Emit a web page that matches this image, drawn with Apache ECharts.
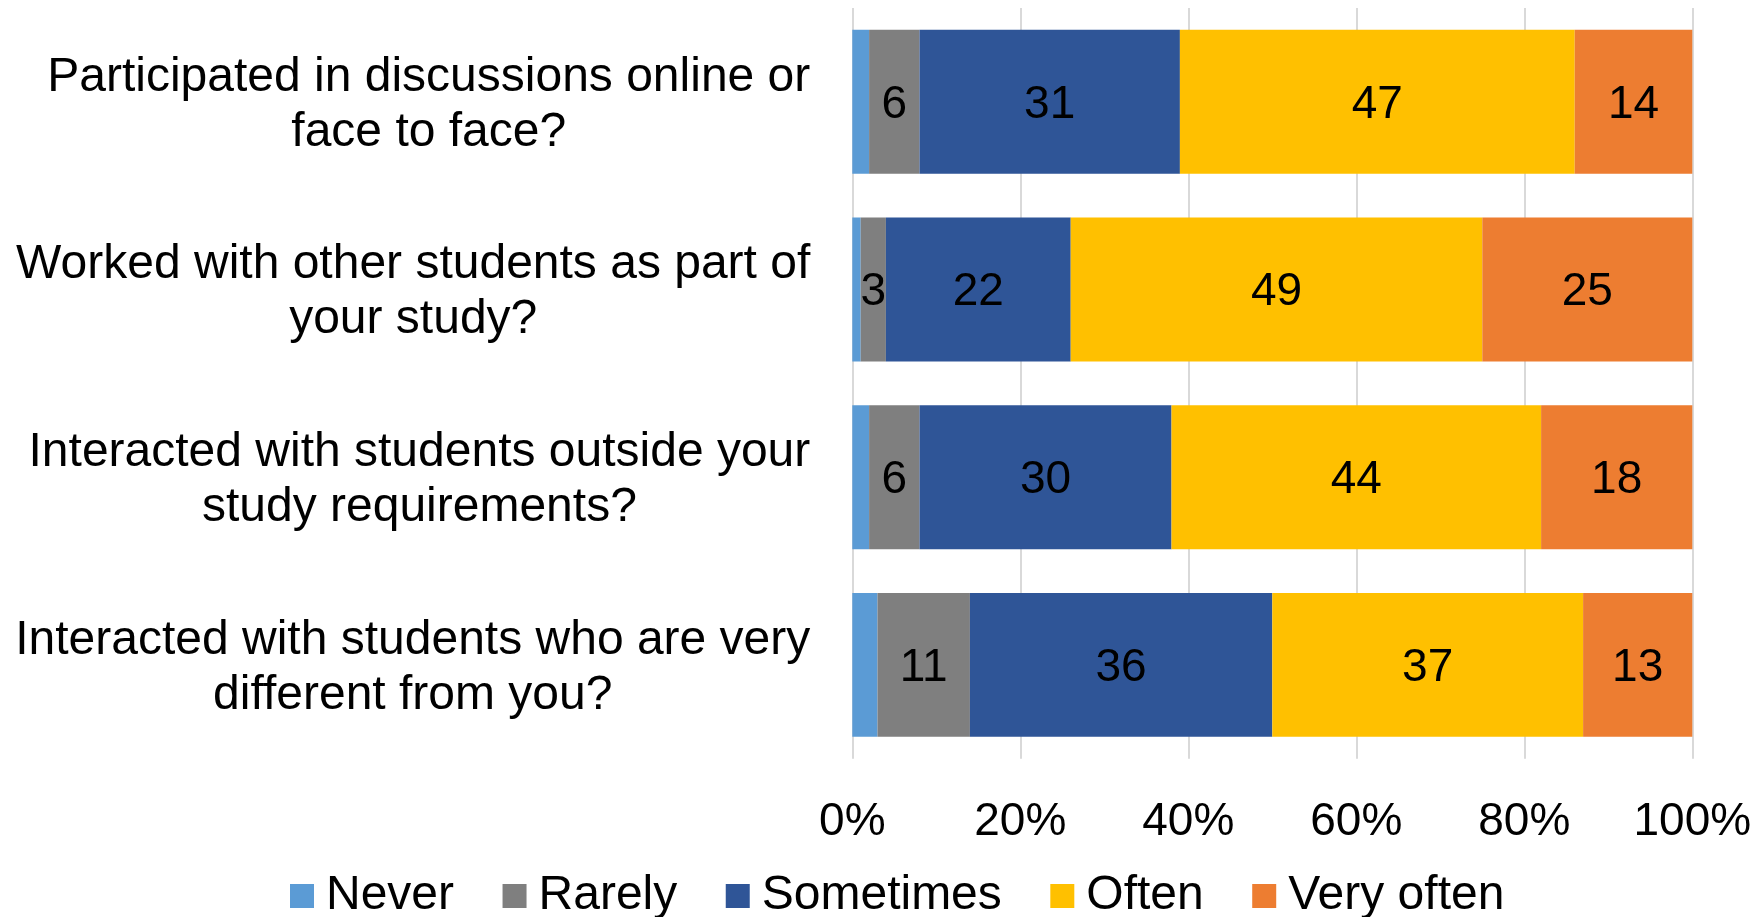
<!DOCTYPE html>
<html>
<head>
<meta charset="utf-8">
<title>Student interaction frequency</title>
<script src="https://cdn.jsdelivr.net/npm/echarts@6/dist/echarts.min.js"></script>
<style>
  html, body { margin: 0; padding: 0; background: #ffffff; }
  #chart { width: 1763px; height: 917px; }
</style>
</head>
<body>
<div id="chart"></div>
<script>
// Survey questions (one horizontal bar each, top to bottom)
const categories = [
  'Participated in discussions online or\nface to face?',
  'Worked with other students as part of\nyour study?',
  'Interacted with students outside your\nstudy requirements?',
  'Interacted with students who are very\ndifferent from you?'
];

// Response shares in percent, one array per answer option
const never     = [2, 1, 2, 3];
const rarely    = [6, 3, 6, 11];
const sometimes = [31, 22, 30, 36];
const often     = [47, 49, 44, 37];
const veryOften = [14, 25, 18, 13];

const seriesNames = ['Never', 'Rarely', 'Sometimes', 'Often', 'Very often'];
const seriesColors = ['#5B9BD5', '#7F7F7F', '#2F5597', '#FFC000', '#ED7D31'];
const seriesValues = [never, rarely, sometimes, often, veryOften];
const showValueLabel = [false, true, true, true, true];

// Percent axis ticks
const tickValues = [0, 20, 40, 60, 80, 100];

const FONT = '"Liberation Sans", Arial, sans-serif';

const chart = echarts.init(document.getElementById('chart'), null, { renderer: 'canvas' });

const series = seriesNames.map((name, i) => ({
  name: name,
  type: 'bar',
  stack: 'total',
  barCategoryGap: '23.3%',
  itemStyle: { color: seriesColors[i] },
  label: {
    show: showValueLabel[i],
    position: 'inside',
    offset: [0, 3],
    color: '#000000',
    fontFamily: FONT,
    fontSize: 46,
    formatter: p => String(p.value)
  },
  emphasis: { disabled: true },
  data: seriesValues[i]
}));

chart.setOption({
  animation: false,
  backgroundColor: '#ffffff',
  textStyle: { fontFamily: FONT },
  grid: {
    left: 852.3,
    right: 70.7,
    top: 8,
    bottom: 158.3,
    containLabel: false,
    outerBoundsMode: 'none'
  },
  legend: {
    data: seriesNames,
    icon: 'rect',
    itemWidth: 24,
    itemHeight: 24,
    itemGap: 48.5,
    padding: 0,
    left: 290,
    top: 869,
    selectedMode: false,
    textStyle: {
      fontFamily: FONT,
      fontSize: 48,
      lineHeight: 54,
      color: '#000000',
      padding: [0, 0, 0, 7]
    }
  },
  xAxis: {
    type: 'value',
    min: tickValues[0],
    max: tickValues[tickValues.length - 1],
    interval: tickValues[1] - tickValues[0],
    axisLine: { show: false },
    axisTick: { show: false },
    splitLine: {
      show: true,
      showMinLine: true,
      showMaxLine: true,
      lineStyle: { color: '#D9D9D9', width: 2 }
    },
    axisLabel: {
      margin: 41,
      fontFamily: FONT,
      fontSize: 46,
      color: '#000000',
      formatter: v => v + '%'
    }
  },
  yAxis: {
    type: 'category',
    inverse: true,
    data: categories,
    axisLine: { show: false },
    axisTick: { show: false },
    splitLine: { show: false },
    axisLabel: {
      margin: 42,
      align: 'right',
      padding: [6, 0, 0, 0],
      formatter: v => v.split('\n').map(line => '{q|' + line + '}').join('\n'),
      rich: {
        q: {
          align: 'center',
          fontFamily: FONT,
          fontSize: 48,
          lineHeight: 55,
          color: '#000000'
        }
      }
    }
  },
  series: series
});
</script>
</body>
</html>
